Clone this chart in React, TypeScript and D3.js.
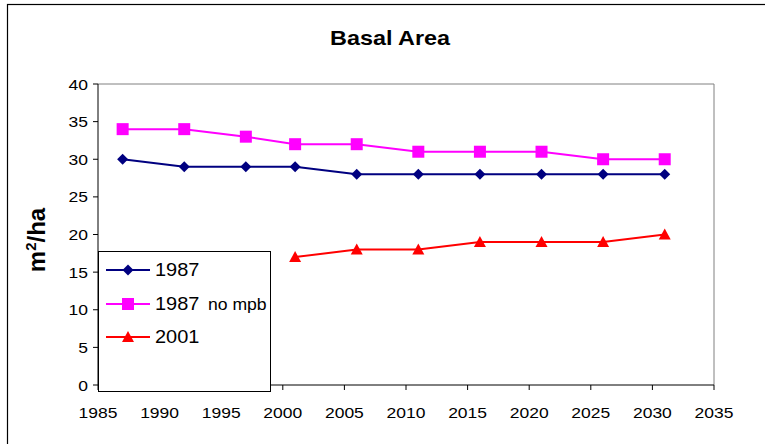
import React from "react";
import * as d3 from "d3";

const years1987 = [1987, 1992, 1997, 2001, 2006, 2011, 2016, 2021, 2026, 2031];
const values1987 = [30, 29, 29, 29, 28, 28, 28, 28, 28, 28];
const valuesNoMpb = [34, 34, 33, 32, 32, 31, 31, 31, 30, 30];
const years2001 = [2001, 2006, 2011, 2016, 2021, 2026, 2031];
const values2001 = [17, 18, 18, 19, 19, 19, 20];
const xTicks = [1985, 1990, 1995, 2000, 2005, 2010, 2015, 2020, 2025, 2030, 2035];
const yTicks = [0, 5, 10, 15, 20, 25, 30, 35, 40];

const W = 765, H = 444;
const L = 98, R = 714, T = 84, B = 385;

function Marker({ kind, x, y, color }: { kind: string; x: number; y: number; color: string }) {
  if (kind === "diamond") {
    const s = 5.5;
    return <path d={`M${x},${y - s}L${x + s},${y}L${x},${y + s}L${x - s},${y}Z`} fill={color} />;
  }
  if (kind === "square") {
    const s = 6;
    return <rect x={x - s} y={y - s} width={2 * s} height={2 * s} fill={color} />;
  }
  const s = 6;
  return <path d={`M${x},${y - s}L${x + s},${y + s - 1}L${x - s},${y + s - 1}Z`} fill={color} />;
}

function T2({ x, y, sx, anchor, size, bold, children }: any) {
  return (
    <text transform={`translate(${x},${y}) scale(${sx},1)`} textAnchor={anchor || "start"} fontSize={size} fontWeight={bold ? "bold" : "normal"}>
      {children}
    </text>
  );
}

export default function App() {
  const x = d3.scaleLinear().domain([1985, 2035]).range([L, R]);
  const y = d3.scaleLinear().domain([0, 40]).range([B, T]);
  const line = d3.line<[number, number]>().x(d => x(d[0])).y(d => y(d[1]));
  const series = [
    { name: "1987", years: years1987, vals: values1987, color: "#000080", kind: "diamond" },
    { name: "1987 no mpb", years: years1987, vals: valuesNoMpb, color: "#FF00FF", kind: "square" },
    { name: "2001", years: years2001, vals: values2001, color: "#FF0000", kind: "triangle" },
  ];
  const font = "Arial, 'Liberation Sans', sans-serif";
  const legendRows = [270, 304, 337];
  const legendBase = [276, 310, 343];
  return (
    <svg width={W} height={H} style={{ position: "absolute", left: 0, top: 0, background: "#fff" }} fontFamily={font}>
      <rect x={7.5} y={4.5} width={770} height={460} fill="#fff" stroke="#000" strokeWidth={1.2} />
      <T2 x={390} y={45} sx={1.2} anchor="middle" size={19.5} bold>Basal Area</T2>
      <text transform={`translate(45,${240}) rotate(-90)`} textAnchor="middle" fontSize={24} fontWeight="bold">
        m<tspan dy={-9} fontSize={15}>2</tspan><tspan dy={9}>/ha</tspan>
      </text>
      <line x1={L} y1={T} x2={R} y2={T} stroke="#808080" />
      <line x1={R} y1={T} x2={R} y2={B} stroke="#808080" />
      <line x1={L} y1={T} x2={L} y2={B} stroke="#000" />
      <line x1={L} y1={B} x2={R} y2={B} stroke="#000" />
      {yTicks.map(t => (
        <g key={"y" + t}>
          <line x1={L - 5} x2={L} y1={y(t)} y2={y(t)} stroke="#000" />
          <T2 x={L - 10} y={y(t) + 5.5} sx={1.25} anchor="end" size={14}>{t}</T2>
        </g>
      ))}
      {xTicks.map(t => (
        <g key={"x" + t}>
          <line x1={x(t)} x2={x(t)} y1={B} y2={B + 5} stroke="#000" />
          <T2 x={x(t)} y={418} sx={1.25} anchor="middle" size={14}>{t}</T2>
        </g>
      ))}
      {series.map(s => {
        const pts = s.years.map((yr, i) => [yr, s.vals[i]] as [number, number]);
        return (
          <g key={s.name}>
            <path d={line(pts) || ""} fill="none" stroke={s.color} strokeWidth={2} />
            {pts.map((p, i) => <Marker key={i} kind={s.kind} x={x(p[0])} y={y(p[1])} color={s.color} />)}
          </g>
        );
      })}
      <rect x={98.5} y={251.5} width={172} height={140} fill="#fff" stroke="#000" />
      {series.map((s, i) => (
        <g key={"lg" + s.name}>
          <line x1={106} x2={150} y1={legendRows[i]} y2={legendRows[i]} stroke={s.color} strokeWidth={2} />
          <Marker kind={s.kind} x={128} y={legendRows[i]} color={s.color} />
          <T2 x={155} y={legendBase[i]} sx={1.05} size={19}>{i === 1 ? "1987" : s.name}</T2>
          {i === 1 ? <T2 x={208} y={legendBase[i]} sx={1.1} size={16}>no mpb</T2> : null}
        </g>
      ))}
    </svg>
  );
}
